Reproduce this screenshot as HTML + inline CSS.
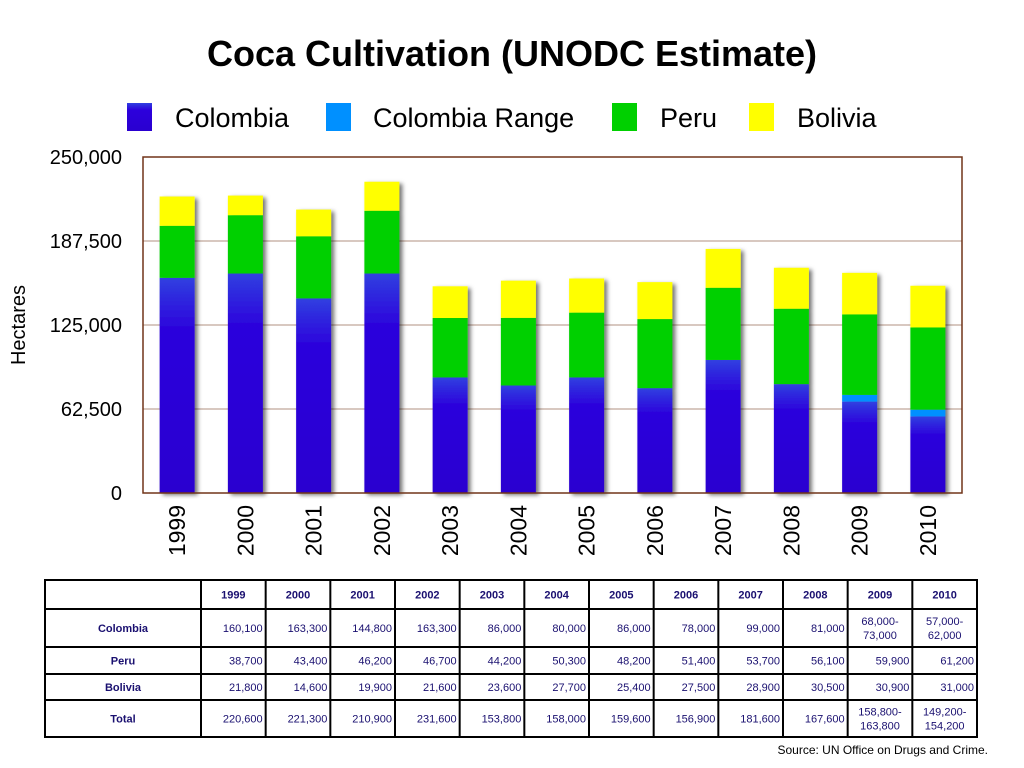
<!DOCTYPE html>
<html><head><meta charset="utf-8"><style>
body{margin:0;background:#fff;font-family:"Liberation Sans",sans-serif}
svg{display:block}
</style></head><body>
<svg id="c" width="1024" height="768" xmlns="http://www.w3.org/2000/svg">
<defs>
<linearGradient id="gb" x1="0" y1="0" x2="0" y2="1"><stop offset="0" stop-color="#3040e0"/><stop offset="0.25" stop-color="#2c00dc"/><stop offset="1" stop-color="#2a00d0"/></linearGradient>
<filter id="sh" x="-20%" y="-5%" width="150%" height="115%"><feDropShadow dx="3" dy="2" stdDeviation="2" flood-color="#000" flood-opacity="0.55"/></filter>
</defs>
<text x="512" y="66" text-anchor="middle" font-size="36" font-weight="bold">Coca Cultivation (UNODC Estimate)</text>
<g font-size="27">
<g><rect x="127" y="103" width="25" height="28" fill="url(#gb)"/><text x="175" y="127">Colombia</text></g>
<g><rect x="326" y="103" width="25" height="28" fill="#0090ff"/><text x="373" y="127">Colombia Range</text></g>
<g><rect x="612" y="103" width="25" height="28" fill="#00d000"/><text x="660" y="127">Peru</text></g>
<g><rect x="749" y="103" width="25" height="28" fill="#ffff00"/><text x="797" y="127">Bolivia</text></g>
</g>
<g id="grid"></g>
<g id="bars"></g>
<rect x="143" y="157" width="819" height="336" fill="none" stroke="#703418" stroke-width="1.5"/>
<g id="yt" font-size="20"></g>
<g id="xt" font-size="23"></g>
<text transform="translate(25,325) rotate(-90)" text-anchor="middle" font-size="20">Hectares</text>
<g id="tbl" font-size="11" fill="#1a1070"></g>
<text x="988" y="754" text-anchor="end" font-size="12">Source: UN Office on Drugs and Crime.</text>
</svg>
<script>
const years=["1999","2000","2001","2002","2003","2004","2005","2006","2007","2008","2009","2010"];
const colombia=[160100,163300,144800,163300,86000,80000,86000,78000,99000,81000,68000,57000];
const colRange=[0,0,0,0,0,0,0,0,0,0,5000,5000];
const peru=[38700,43400,46200,46700,44200,50300,48200,51400,53700,56100,59900,61200];
const bolivia=[21800,14600,19900,21600,23600,27700,25400,27500,28900,30500,30900,31000];
const yTicks=[0,62500,125000,187500,250000];
const yTickLabels=["0","62,500","125,000","187,500","250,000"];
const colText=["160,100","163,300","144,800","163,300","86,000","80,000","86,000","78,000","99,000","81,000","68,000-\n73,000","57,000-\n62,000"];
const peruText=["38,700","43,400","46,200","46,700","44,200","50,300","48,200","51,400","53,700","56,100","59,900","61,200"];
const bolText=["21,800","14,600","19,900","21,600","23,600","27,700","25,400","27,500","28,900","30,500","30,900","31,000"];
const totText=["220,600","221,300","210,900","231,600","153,800","158,000","159,600","156,900","181,600","167,600","158,800-\n163,800","149,200-\n154,200"];
const NS="http://www.w3.org/2000/svg";
const X0=143,W=819,Y0=493,H=336,YMAX=250000;
const y=v=>Y0-v/YMAX*H;
const xc=i=>X0+W/years.length*(i+0.5);
function mk(t,a,p){const e=document.createElementNS(NS,t);for(const k in a)e.setAttribute(k,a[k]);p.appendChild(e);return e;}
const grid=document.getElementById('grid'),yt=document.getElementById('yt');
yTicks.forEach((v,i)=>{
 if(v>0&&v<YMAX){const l=mk('line',{x1:X0,x2:X0+W,y1:y(v),y2:y(v),stroke:'#b09080','stroke-width':1},grid);
 
 }
 const t=mk('text',{x:122,y:y(v)+7,'text-anchor':'end'},yt);t.textContent=yTickLabels[i];
 
 
});
const bars=document.getElementById('bars'),xt=document.getElementById('xt');
const BW=35;
years.forEach((yr,i)=>{
 const g=mk('g',{filter:'url(#sh)'},bars);
 
 
 let base=0;
 [[colombia,'url(#gb)','colombia'],[colRange,'#0090ff','colombia-range'],[peru,'#00d000','peru'],[bolivia,'#ffff00','bolivia']].forEach(([arr,f,n])=>{
  const v=arr[i];if(v<=0)return;
  const r=mk('rect',{x:xc(i)-BW/2,y:y(base+v),width:BW,height:y(base)-y(base+v),fill:f},g);
  
  
  base+=v;
 });
 const t=mk('text',{transform:`translate(${xc(i)+8},505) rotate(-90)`,'text-anchor':'end'},xt);t.textContent=yr;
 
 
});
const tbl=document.getElementById('tbl');
const TX=45,TR=977,C1=201,rows=[580,609,647,674,700,737];
const cw=(TR-C1)/12;
mk('rect',{x:TX,y:rows[0],width:TR-TX,height:rows[5]-rows[0],fill:'none',stroke:'#000','stroke-width':2},tbl);
rows.slice(1,5).forEach(r=>mk('line',{x1:TX,x2:TR,y1:r,y2:r,stroke:'#000','stroke-width':2},tbl));
for(let j=0;j<12;j++)mk('line',{x1:C1+j*cw,x2:C1+j*cw,y1:rows[0],y2:rows[5],stroke:'#000','stroke-width':2},tbl);
function cell(txt,x,r0,r1,anchor,bold){
 const lines=txt.split('\n');const mid=(rows[r0]+rows[r1])/2;
 lines.forEach((s,k)=>{const t=mk('text',{x:x,y:mid+4+(k-(lines.length-1)/2)*14,'text-anchor':anchor,'font-weight':bold?'bold':'normal'},tbl);t.textContent=s;
 
 });
}
const labels=["Colombia","Peru","Bolivia","Total"],data=[colText,peruText,bolText,totText];
years.forEach((yr,j)=>cell(yr,C1+(j+0.5)*cw,0,1,'middle',true));
labels.forEach((l,r)=>{cell(l,(TX+C1)/2,r+1,r+2,'middle',true);
 data[r].forEach((s,j)=>{const multi=s.includes('\n');cell(s,multi?C1+(j+0.5)*cw:C1+(j+1)*cw-3,r+1,r+2,multi?'middle':'end',false);});});
</script>
</body></html>
